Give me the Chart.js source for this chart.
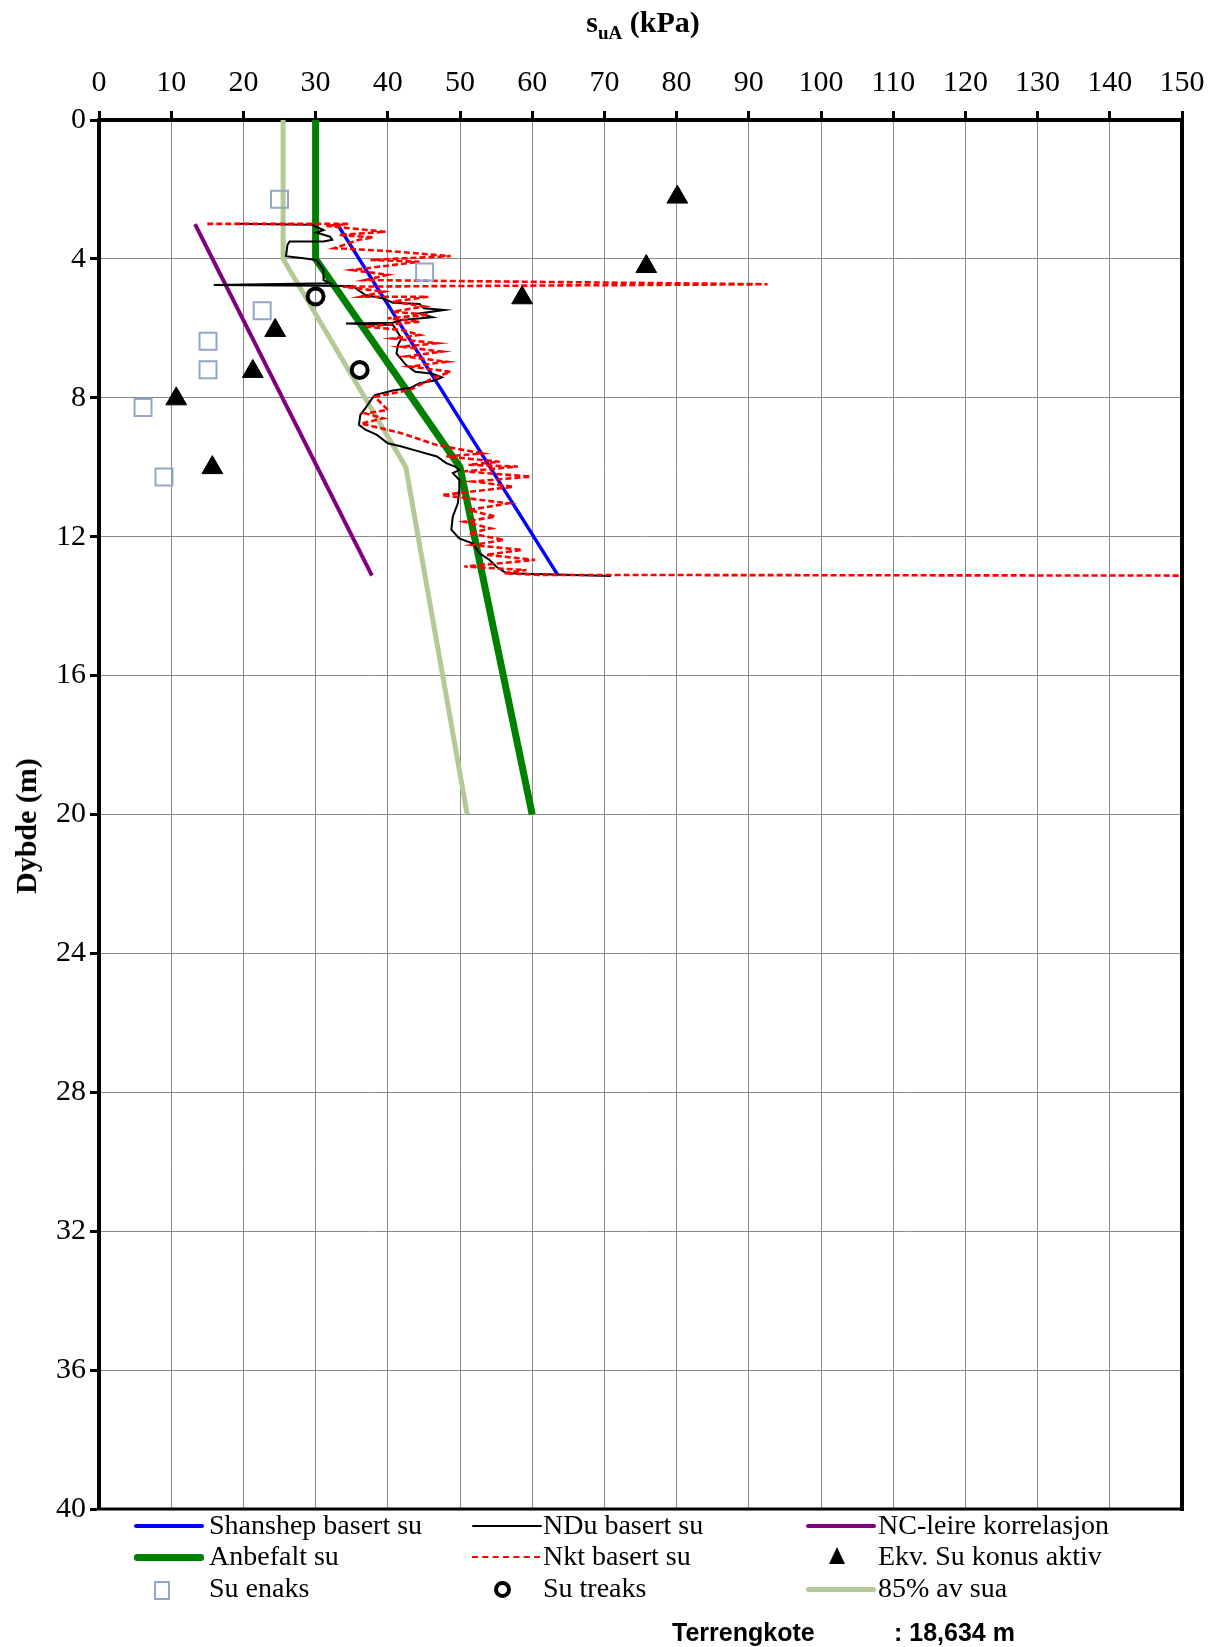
<!DOCTYPE html>
<html>
<head>
<meta charset="utf-8">
<script src="https://cdn.jsdelivr.net/npm/chart.js@4.4.1/dist/chart.umd.min.js"></script>
<style>
  html, body { margin: 0; padding: 0; background: #fff; }
  #wrap { position: relative; width: 1210px; height: 1647px; overflow: hidden; }
  #c { position: absolute; left: 0; top: 0; }
  .txt { position: absolute; font-family: 'Liberation Serif', 'Times New Roman', serif; font-size: 28px; color: #000; line-height: 32px; white-space: nowrap; }
  .ln { position: absolute; border-radius: 3px; }
  #title { position: absolute; left: 493px; width: 300px; top: 5px; text-align: center; font-family: 'Liberation Serif', serif; font-weight: bold; font-size: 30px; color: #000; }
  #title sub { font-size: 19px; vertical-align: -7px; }
  #ytitle { position: absolute; left: 26px; top: 826px; transform: translate(-50%, -50%) rotate(-90deg); font-family: 'Liberation Serif', serif; font-weight: bold; font-size: 30px; color: #000; white-space: nowrap; }
  .note { position: absolute; font-family: 'Liberation Sans', Arial, sans-serif; font-weight: bold; font-size: 25px; color: #000; top: 1618px; white-space: nowrap; }
</style>
</head>
<body>
<div id="wrap">
  <canvas id="c" width="1210" height="1647"></canvas>
  <div id="title">s<sub>uA</sub> (kPa)</div>
  <div id="ytitle">Dybde (m)</div>
  <div id="legend"></div>
  <div class="note" style="left:672px">Terrengkote</div>
  <div class="note" style="left:894px">: 18,634 m</div>
</div>
<script>
// ---- axis ticks ----
const xTickValues = [0,10,20,30,40,50,60,70,80,90,100,110,120,130,140,150];
const yTickValues = [0,4,8,12,16,20,24,28,32,36,40];

// ---- series (x = su in kPa, y = depth in m) ----
const shanshepX = [33.0, 63.6];
const shanshepY = [3.0, 13.12];

const anbefaltX = [30, 30, 50, 60];
const anbefaltY = [0, 4, 10, 20];

const pct85X = [25.5, 25.5, 42.5, 51];
const pct85Y = [0, 4, 10, 20];

const ncLeireX = [13.3, 37.8];
const ncLeireY = [3.0, 13.12];

const konusX = [80.1, 75.8, 58.6, 24.4, 21.3, 10.7, 15.7];
const konusY = [2.22, 4.22, 5.12, 6.06, 7.24, 8.03, 10.01];

const enaksX = [25.0, 45.1, 22.6, 15.1, 15.1, 6.1, 9.0];
const enaksY = [2.28, 4.38, 5.49, 6.37, 7.19, 8.28, 10.28];

const treaksX = [30.0, 36.1];
const treaksY = [5.08, 7.2];

const nduX = [19.0,29.5,31.1,30.1,32.0,32.3,31.1,26.4,26.1,25.9,28.3,30.1,31.1,31.1,32.0,15.9,35.1,36.9,39.4,40.7,44.4,45.0,47.8,44.4,46.2,41.9,40.7,34.2,40.7,41.3,41.9,41.4,41.2,42.5,43.8,46.2,47.5,46.5,44.4,43.1,40.7,38.2,37.6,36.9,36.2,36.0,36.9,38.5,40.0,41.9,44.4,46.8,48.1,49.3,49.9,49.0,49.9,49.9,49.7,49.0,48.8,49.9,51.8,52.7,54.1,55.0,56.4,70.9];
const nduY = [2.99,3.02,3.17,3.24,3.36,3.45,3.50,3.50,3.60,3.92,3.98,4.03,4.32,4.61,4.70,4.75,4.78,5.04,5.14,5.26,5.30,5.42,5.47,5.57,5.68,5.76,5.84,5.86,5.90,6.09,6.29,6.48,6.72,7.05,7.25,7.31,7.41,7.50,7.58,7.72,7.79,7.92,8.08,8.30,8.49,8.78,8.92,9.07,9.31,9.40,9.55,9.69,9.88,9.98,10.08,10.17,10.36,10.66,11.04,11.42,11.80,12.05,12.20,12.48,12.67,12.86,13.05,13.13];

const nktX = [15.0,34.5,31.5,39.7,33.2,38.0,36.0,32.6,40.5,48.7,37.6,44.4,35.1,40.0,36.9,92.6,33.8,39.4,36.3,45.6,40.7,45.0,40.7,45.6,40.0,44.4,36.9,42.0,44.4,40.7,46.8,41.9,47.5,42.5,48.1,43.1,48.7,46.2,43.1,38.2,40.0,36.9,39.4,36.3,41.9,46.8,53.0,48.1,55.5,51.2,58.0,50.6,59.8,51.8,57.4,47.5,56.7,51.2,54.9,50.6,54.3,51.2,56.1,51.8,58.6,53.6,60.4,50.6,59.2,56.1,61.0,150];
const nktY = [2.99,2.99,3.05,3.22,3.31,3.38,3.45,3.69,3.78,3.92,4.03,4.08,4.32,4.46,4.61,4.73,4.80,4.94,5.09,5.09,5.23,5.37,5.52,5.61,5.71,5.81,5.95,6.05,6.19,6.29,6.43,6.53,6.67,6.81,6.96,7.10,7.25,7.44,7.77,7.97,8.35,8.45,8.59,8.74,9.02,9.36,9.60,9.69,9.84,9.93,9.98,10.12,10.27,10.41,10.56,10.80,11.04,11.23,11.42,11.57,11.76,11.90,12.09,12.24,12.38,12.52,12.67,12.86,12.96,13.05,13.10,13.12];

const pts = (xs, ys) => xs.map((x, i) => ({ x: x, y: ys[i] }));

const C = {
  blue: '#0000ff', green: '#008000', light: '#b4c997', purple: '#800080',
  black: '#000000', red: '#ff0000', square: '#91a6c9'
};

const datasets = [
  { label: 'Shanshep basert su', data: pts(shanshepX, shanshepY), showLine: true, borderColor: C.blue, borderWidth: 3.5, pointRadius: 0, order: 5 },
  { label: 'NDu basert su', data: pts(nduX, nduY), showLine: true, borderColor: C.black, borderWidth: 2, pointRadius: 0, order: 4 },
  { label: 'NC-leire korrelasjon', data: pts(ncLeireX, ncLeireY), showLine: true, borderColor: C.purple, borderWidth: 4, pointRadius: 0, order: 8 },
  { label: 'Anbefalt su', data: pts(anbefaltX, anbefaltY), showLine: true, borderColor: C.green, borderWidth: 7, pointRadius: 0, order: 6 },
  { label: 'Nkt basert su', data: pts(nktX, nktY), showLine: true, borderColor: C.red, borderWidth: 2.6, borderDash: [6, 3], pointRadius: 0, order: 3 },
  { label: 'Ekv. Su konus aktiv', data: pts(konusX, konusY), showLine: false, pointStyle: 'triangle', pointRadius: 12, backgroundColor: C.black, borderColor: C.black, borderWidth: 1, order: 1 },
  { label: 'Su enaks', data: pts(enaksX, enaksY), showLine: false, pointStyle: 'rect', pointRadius: 12, backgroundColor: 'rgba(0,0,0,0)', borderColor: C.square, borderWidth: 2, order: 1 },
  { label: 'Su treaks', data: pts(treaksX, treaksY), showLine: false, pointStyle: 'circle', pointRadius: 8, backgroundColor: 'rgba(0,0,0,0)', borderColor: C.black, borderWidth: 4, order: 1 },
  { label: '85% av sua', data: pts(pct85X, pct85Y), showLine: true, borderColor: C.light, borderWidth: 5, pointRadius: 0, order: 7 }
];

const framePlugin = {
  id: 'frame',
  afterDraw(chart) {
    const a = chart.chartArea, ctx = chart.ctx;
    ctx.save();
    ctx.strokeStyle = '#000';
    ctx.lineCap = 'square';
    ctx.lineWidth = 4;
    ctx.beginPath(); ctx.moveTo(a.right, a.top); ctx.lineTo(a.right, a.bottom); ctx.stroke();
    ctx.lineWidth = 3;
    ctx.beginPath(); ctx.moveTo(a.left, a.bottom); ctx.lineTo(a.right, a.bottom); ctx.stroke();
    ctx.restore();
  }
};

new Chart(document.getElementById('c'), {
  type: 'scatter',
  data: { datasets: datasets },
  plugins: [framePlugin],
  options: {
    responsive: false,
    animation: false,
    devicePixelRatio: 1,
    layout: { padding: { top: 0, left: 0, right: 28, bottom: 138 } },
    plugins: { legend: { display: false }, tooltip: { enabled: false } },
    scales: {
      x: {
        type: 'linear', position: 'top', min: 0, max: 150,
        afterFit(s) { s.height = 120; s.paddingLeft = 0; s.paddingRight = 0; },
        afterBuildTicks(s) { s.ticks = xTickValues.map(v => ({ value: v })); },
        ticks: { color: '#000', padding: 10, font: { family: 'Liberation Serif', size: 30 } },
        grid: { color: '#8a8a8a', lineWidth: 1, tickColor: '#000', tickWidth: 3, tickLength: 9 },
        border: { display: true, color: '#000', width: 4 }
      },
      y: {
        type: 'linear', reverse: true, min: 0, max: 40,
        afterFit(s) { s.width = 99; s.paddingTop = 0; s.paddingBottom = 0; },
        afterBuildTicks(s) { s.ticks = yTickValues.map(v => ({ value: v })); },
        ticks: { color: '#000', padding: 4, font: { family: 'Liberation Serif', size: 30 } },
        grid: { color: '#8a8a8a', lineWidth: 1, tickColor: '#000', tickWidth: 3, tickLength: 9 },
        border: { display: true, color: '#000', width: 4 }
      }
    }
  }
});

// ---- legend (HTML, styled from the datasets) ----
const legendItems = [
  { ds: 0, kind: 'line', lx: 134, tx: 209, row: 0, w: 4 },
  { ds: 1, kind: 'line', lx: 472, tx: 543, row: 0, w: 2 },
  { ds: 2, kind: 'line', lx: 806, tx: 878, row: 0, w: 4 },
  { ds: 3, kind: 'line', lx: 134, tx: 209, row: 1, w: 7 },
  { ds: 4, kind: 'dash', lx: 472, tx: 543, row: 1, w: 2 },
  { ds: 5, kind: 'tri', lx: 837, tx: 878, row: 1 },
  { ds: 6, kind: 'sq', lx: 161, tx: 209, row: 2 },
  { ds: 7, kind: 'circ', lx: 502, tx: 543, row: 2 },
  { ds: 8, kind: 'line', lx: 806, tx: 878, row: 2, w: 5 }
];
const rowY = [1526, 1557, 1589];
const lg = document.getElementById('legend');
legendItems.forEach(it => {
  const d = datasets[it.ds], y = rowY[it.row];
  const m = document.createElement('div');
  m.style.position = 'absolute';
  if (it.kind === 'line') {
    m.className = 'ln';
    Object.assign(m.style, { left: it.lx + 'px', top: (y - it.w / 2) + 'px', width: '70px', height: it.w + 'px', background: d.borderColor });
  } else if (it.kind === 'dash') {
    Object.assign(m.style, { left: it.lx + 'px', top: (y - 1) + 'px', width: '68px', height: '0px', borderTop: '2px dashed ' + d.borderColor });
  } else if (it.kind === 'tri') {
    Object.assign(m.style, { left: (it.lx - 8) + 'px', top: (y - 10) + 'px', width: '0', height: '0', borderLeft: '8px solid transparent', borderRight: '8px solid transparent', borderBottom: '17px solid #000' });
  } else if (it.kind === 'sq') {
    Object.assign(m.style, { left: (it.lx - 7) + 'px', top: (y - 8) + 'px', width: '12px', height: '15px', border: '2px solid ' + d.borderColor });
  } else if (it.kind === 'circ') {
    Object.assign(m.style, { left: (it.lx - 8) + 'px', top: (y - 8) + 'px', width: '9px', height: '9px', borderRadius: '50%', border: '4px solid #000' });
  }
  lg.appendChild(m);
  const t = document.createElement('div');
  t.className = 'txt';
  t.style.left = it.tx + 'px';
  t.style.top = (y - 17) + 'px';
  t.textContent = d.label;
  lg.appendChild(t);
});
</script>
</body>
</html>
